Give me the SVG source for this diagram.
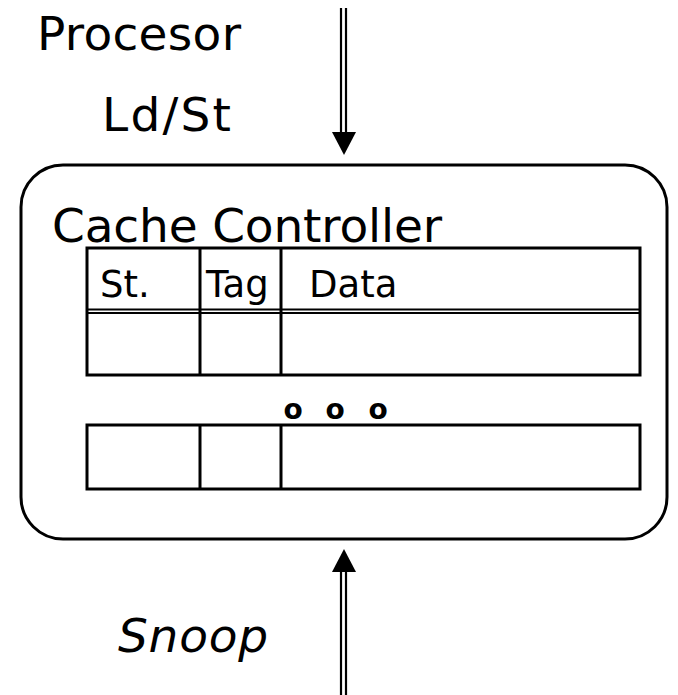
<svg xmlns="http://www.w3.org/2000/svg" width="678" height="695" viewBox="0 0 678 695">
<style>
.t{font-family:"DejaVu Sans","Verdana",sans-serif;fill:#000}
.big{font-size:47px}
.small{font-size:37px}
.ln{stroke:#000;stroke-width:3;fill:none}
.sh{stroke:#000;stroke-width:2.2;fill:none}
</style>
<rect width="678" height="695" fill="#fff"/>
<g id="labels">
<text class="t big" x="37" y="50" textLength="204">Procesor</text>
<text class="t big" x="102" y="131" textLength="129">Ld/St</text>
<text class="t big" x="118" y="652" font-style="italic" textLength="150">Snoop</text>
</g>
<g id="cache-controller">
<rect class="ln" x="21" y="165" width="646" height="374" rx="42" ry="42"/>
<text class="t big" x="52" y="242" textLength="390">Cache Controller</text>
</g>
<g id="table">
<rect class="ln" x="87" y="248" width="553" height="127"/>
<line class="sh" x1="87" y1="309.5" x2="640" y2="309.5"/>
<line class="sh" x1="87" y1="313" x2="640" y2="313"/>
<line class="ln" x1="200" y1="248" x2="200" y2="375"/>
<line class="ln" x1="281" y1="248" x2="281" y2="375"/>
<text class="t small" x="100" y="297">St.</text>
<text class="t small" x="206" y="297">Tag</text>
<text class="t small" x="309" y="297">Data</text>
<text class="t" font-size="28" font-weight="bold" text-anchor="middle" x="293 335 378" y="419">ooo</text>
<rect class="ln" x="87" y="425" width="553" height="64"/>
<line class="ln" x1="200" y1="425" x2="200" y2="489"/>
<line class="ln" x1="281" y1="425" x2="281" y2="489"/>
</g>
<g id="connectors">
<line class="sh" x1="341" y1="8" x2="341" y2="134"/>
<line class="sh" x1="346" y1="8" x2="346" y2="134"/>
<path d="M332,132 L356,132 L344,155 Z" fill="#000"/>
<line class="sh" x1="341" y1="570" x2="341" y2="695"/>
<line class="sh" x1="346" y1="570" x2="346" y2="695"/>
<path d="M332,572 L356,572 L344,549 Z" fill="#000"/>
</g>
</svg>
